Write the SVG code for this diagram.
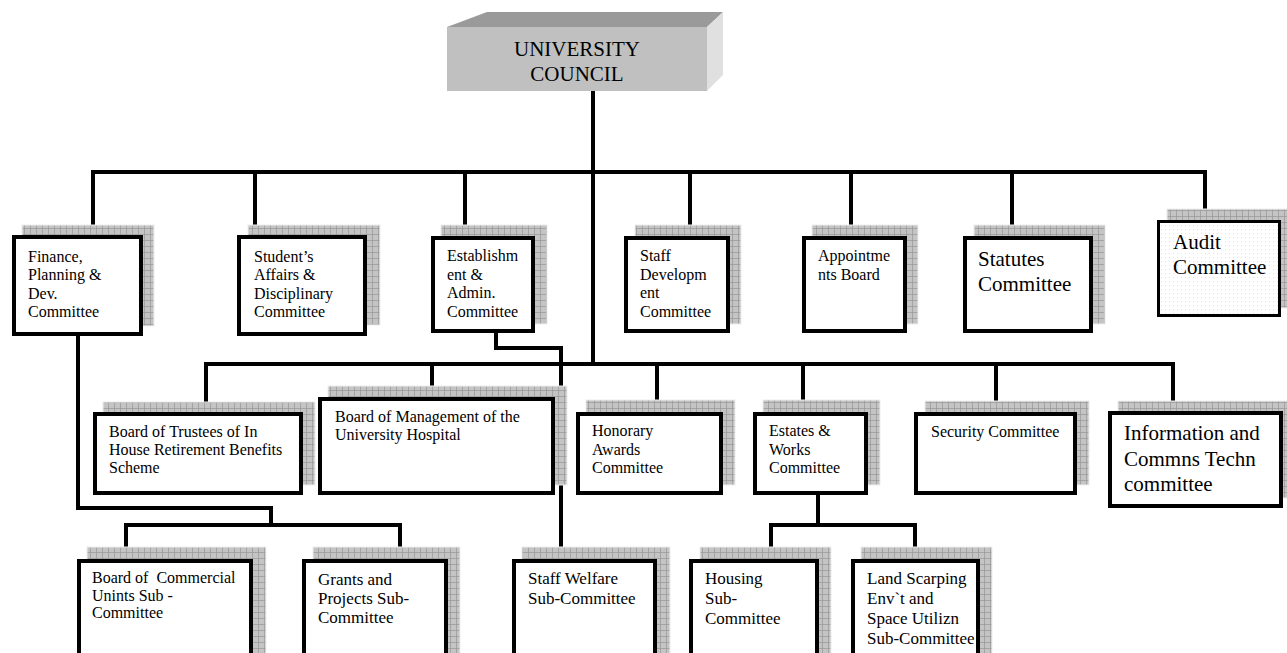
<svg xmlns="http://www.w3.org/2000/svg" width="1287" height="653" viewBox="0 0 1287 653">
<defs>
<pattern id="grid" width="6" height="6" patternUnits="userSpaceOnUse">
<rect width="6" height="6" fill="#c4c4c4"/>
<path d="M0 0.5H6M0.5 0V6" stroke="#979797" stroke-width="0.7" fill="none"/>
</pattern>
<pattern id="dots" width="4" height="4" patternUnits="userSpaceOnUse">
<rect width="4" height="4" fill="#fff"/>
<rect x="1" y="1" width="1" height="1" fill="#e2e2e2"/>
</pattern>
<style>
.sh{fill:url(#grid);stroke:#eee;stroke-width:1}
.bx{fill:#fff;stroke:#000;stroke-width:4}
.t{font-family:"Liberation Serif","Times New Roman",serif;fill:#000;white-space:pre}
.s16{font-size:16px}
.s17{font-size:17px}
.s21{font-size:21px}
.c{fill:none;stroke:#000;stroke-width:4;stroke-linejoin:miter}
</style>
</defs>
<rect width="1287" height="653" fill="#fff"/>

<g id="connectors">
<path class="c" d="M593 91V364"/>
<path class="c" d="M93 235V172H1205V220"/>
<path class="c" d="M255 172V235M465 172V236M690 172V236M851 172V236M1012 172V236"/>
<path class="c" d="M206 412V364H1173V411"/>
<path class="c" d="M432 364V397M657 364V412M803 364V412M996 364V412"/>
<path class="c" d="M496 333V348H561V559"/>
<path class="c" d="M78 336V508H271V525"/>
<path class="c" d="M126 559V525H400V559"/>
<path class="c" d="M818 495V525"/>
<path class="c" d="M771 559V525H915V559"/>
</g>

<g id="council">
<polygon points="447,27 487,12 723,12 707,27" fill="#9a9a9a"/>
<polygon points="707,27 723,12 723,75 707,91" fill="#e0e0e0"/>
<rect x="447" y="27" width="260" height="64" fill="#c0c0c0"/>
<text class="t s21" text-anchor="middle"><tspan x="577" y="56">UNIVERSITY</tspan><tspan x="577" y="81">COUNCIL</tspan></text>
</g>

<g id="finance">
<rect class="sh" x="22" y="225" width="132" height="101"/>
<rect class="bx" x="14" y="237" width="127" height="97"/>
<text class="t s16"><tspan x="28" y="262">Finance,</tspan><tspan x="28" y="280">Planning &amp;</tspan><tspan x="28" y="298.5">Dev.</tspan><tspan x="28" y="317">Committee</tspan></text>
</g>

<g id="students">
<rect class="sh" x="248" y="225" width="132" height="100"/>
<rect class="bx" x="239" y="237" width="126" height="97"/>
<text class="t s16"><tspan x="254" y="262">Student’s</tspan><tspan x="254" y="280">Affairs &amp;</tspan><tspan x="254" y="298.5">Disciplinary</tspan><tspan x="254" y="317">Committee</tspan></text>
</g>

<g id="establishment">
<rect class="sh" x="441" y="225" width="106" height="99"/>
<rect class="bx" x="433" y="238" width="100" height="93"/>
<text class="t s16"><tspan x="447" y="261">Establishm</tspan><tspan x="447" y="279.5">ent &amp;</tspan><tspan x="447" y="298">Admin.</tspan><tspan x="447" y="316.5">Committee</tspan></text>
</g>

<g id="staffdev">
<rect class="sh" x="635" y="225" width="106" height="99"/>
<rect class="bx" x="626" y="238" width="102" height="93"/>
<text class="t s16"><tspan x="640" y="261">Staff</tspan><tspan x="640" y="279.5">Developm</tspan><tspan x="640" y="298">ent</tspan><tspan x="640" y="316.5">Committee</tspan></text>
</g>

<g id="appointments">
<rect class="sh" x="812" y="225" width="106" height="99"/>
<rect class="bx" x="804" y="238" width="101" height="93"/>
<text class="t s16"><tspan x="818" y="261">Appointme</tspan><tspan x="818" y="279.5">nts Board</tspan></text>
</g>

<g id="statutes">
<rect class="sh" x="974" y="225" width="131" height="99"/>
<rect class="bx" x="965" y="238" width="126" height="93"/>
<text class="t s21"><tspan x="978" y="266">Statutes</tspan><tspan x="978" y="291">Committee</tspan></text>
</g>

<g id="audit">
<rect class="sh" x="1167" y="209" width="130" height="99"/>
<rect x="1158.5" y="221.5" width="121" height="94" fill="url(#dots)" stroke="#000" stroke-width="3"/>
<text class="t s21"><tspan x="1173" y="249">Audit</tspan><tspan x="1173" y="274">Committee</tspan></text>
</g>

<g id="trustees">
<rect class="sh" x="103" y="402" width="212" height="83"/>
<rect class="bx" x="95" y="414" width="206" height="79"/>
<text class="t s16"><tspan x="109" y="437">Board of Trustees of In</tspan><tspan x="109" y="455">House Retirement Benefits</tspan><tspan x="109" y="473">Scheme</tspan></text>
</g>

<g id="hospital">
<rect class="sh" x="328" y="386" width="239" height="99"/>
<rect class="bx" x="320" y="399" width="233" height="94"/>
<text class="t s16"><tspan x="335" y="422">Board of Management of the</tspan><tspan x="335" y="440">University Hospital</tspan></text>
</g>

<g id="honorary">
<rect class="sh" x="586" y="400" width="149" height="85"/>
<rect class="bx" x="578" y="414" width="143" height="79"/>
<text class="t s16"><tspan x="592" y="436">Honorary</tspan><tspan x="592" y="454.5">Awards</tspan><tspan x="592" y="473">Committee</tspan></text>
</g>

<g id="estates">
<rect class="sh" x="763" y="400" width="117" height="85"/>
<rect class="bx" x="755" y="414" width="111" height="79"/>
<text class="t s16"><tspan x="769" y="436">Estates &amp;</tspan><tspan x="769" y="454.5">Works</tspan><tspan x="769" y="473">Committee</tspan></text>
</g>

<g id="security">
<rect class="sh" x="925" y="401" width="164" height="84"/>
<rect class="bx" x="916" y="414" width="159" height="79"/>
<text class="t s16"><tspan x="931" y="437">Security Committee</tspan></text>
</g>

<g id="ict">
<rect class="sh" x="1118" y="401" width="180" height="97"/>
<rect class="bx" x="1110" y="413" width="171" height="93"/>
<text class="t s21"><tspan x="1124" y="440">Information and</tspan><tspan x="1124" y="466">Commns Techn</tspan><tspan x="1124" y="491">committee</tspan></text>
</g>

<g id="commercial">
<rect class="sh" x="87" y="547" width="179" height="110"/>
<rect class="bx" x="79" y="561" width="172" height="110"/>
<text class="t s16" xml:space="preserve"><tspan x="92" y="583">Board of  Commercial</tspan><tspan x="92" y="600.5">Unints Sub -</tspan><tspan x="92" y="618">Committee</tspan></text>
</g>

<g id="grants">
<rect class="sh" x="313" y="547" width="147" height="110"/>
<rect class="bx" x="304" y="561" width="142" height="110"/>
<text class="t s17"><tspan x="318" y="585">Grants and</tspan><tspan x="318" y="604">Projects Sub-</tspan><tspan x="318" y="623">Committee</tspan></text>
</g>

<g id="welfare">
<rect class="sh" x="522" y="547" width="148" height="110"/>
<rect class="bx" x="514" y="561" width="141" height="110"/>
<text class="t s17"><tspan x="528" y="584">Staff Welfare</tspan><tspan x="528" y="604">Sub-Committee</tspan></text>
</g>

<g id="housing">
<rect class="sh" x="700" y="547" width="131" height="110"/>
<rect class="bx" x="691" y="561" width="126" height="110"/>
<text class="t s17"><tspan x="705" y="584">Housing</tspan><tspan x="705" y="604">Sub-</tspan><tspan x="705" y="624">Committee</tspan></text>
</g>

<g id="landscaping">
<rect class="sh" x="861" y="547" width="131" height="110"/>
<rect class="bx" x="853" y="561" width="125" height="110"/>
<text class="t s17"><tspan x="867" y="584">Land Scarping</tspan><tspan x="867" y="604">Env`t and</tspan><tspan x="867" y="624">Space Utilizn</tspan><tspan x="867" y="644">Sub-Committee</tspan></text>
</g>
</svg>
